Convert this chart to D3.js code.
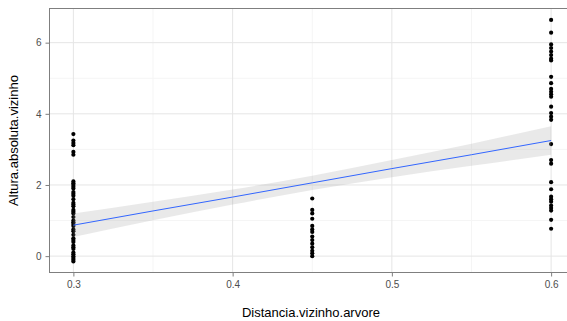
<!DOCTYPE html>
<html>
<head>
<meta charset="utf-8">
<script src="https://cdn.jsdelivr.net/npm/d3@7"></script>
<style>
  body { margin: 0; background: #fff; }
  text { font-family: "Liberation Sans", Arial, sans-serif; }
</style>
</head>
<body>
<div id="chart"></div>
<script>
// Altura.absoluta.vizinho by distance group
const alturas03 = [3.43, 3.25, 3.18, 3.12, 2.93, 2.85, 2.1, 2.05, 2.0, 1.95, 1.9, 1.8, 1.75,
  1.7, 1.6, 1.5, 1.45, 1.4, 1.3, 1.25, 1.2, 1.1, 1.0, 0.95, 0.9, 0.85, 0.75, 0.7, 0.6,
  0.5, 0.45, 0.4, 0.3, 0.25, 0.2, 0.1, 0.05, 0.0, -0.05, -0.1, -0.15];
const alturas045 = [1.62, 1.3, 1.2, 1.05, 0.85, 0.75, 0.68, 0.55, 0.45, 0.35, 0.25, 0.15, 0.08, 0.0];
const alturas06 = [6.64, 6.28, 5.95, 5.85, 5.75, 5.65, 5.55, 5.5, 5.04, 4.86, 4.7, 4.62, 4.55,
  4.48, 4.2, 4.02, 3.92, 3.83, 3.15, 2.7, 2.6, 2.08, 1.88, 1.67, 1.6, 1.53, 1.42, 1.35,
  1.28, 1.02, 0.77];

// lm fit and confidence band
const fitX = [0.3, 0.35, 0.4, 0.45, 0.5, 0.55, 0.6];
const fitY = [0.87, 1.27, 1.66, 2.06, 2.46, 2.85, 3.25];
const fitLo = [0.54, 1.01, 1.45, 1.86, 2.22, 2.54, 2.85];
const fitHi = [1.20, 1.53, 1.87, 2.26, 2.70, 3.16, 3.65];

const xTicks = [0.3, 0.4, 0.5, 0.6];
const xMinor = [0.35, 0.45, 0.55];
const yTicks = [0, 2, 4, 6];
const yMinor = [1, 3, 5];

const width = 567, height = 321;
const panel = { left: 49.5, top: 8.5, right: 575, bottom: 272.5 };

const svg = d3.select("#chart").append("svg")
    .attr("width", width)
    .attr("height", height);

const x = d3.scaleLinear().domain([0.285, 0.615]).range([panel.left, panel.right]);
const y = d3.scaleLinear().domain([-0.46, 6.96]).range([panel.bottom, panel.top]);

// grid
const grid = svg.append("g");
grid.selectAll(".xminor").data(xMinor).enter().append("line")
    .attr("x1", d => x(d)).attr("x2", d => x(d))
    .attr("y1", panel.top).attr("y2", panel.bottom)
    .attr("stroke", "#f5f5f5").attr("stroke-width", 1);
grid.selectAll(".yminor").data(yMinor).enter().append("line")
    .attr("x1", panel.left).attr("x2", panel.right)
    .attr("y1", d => y(d)).attr("y2", d => y(d))
    .attr("stroke", "#f5f5f5").attr("stroke-width", 1);
grid.selectAll(".xmajor").data(xTicks).enter().append("line")
    .attr("x1", d => x(d)).attr("x2", d => x(d))
    .attr("y1", panel.top).attr("y2", panel.bottom)
    .attr("stroke", "#e5e5e5").attr("stroke-width", 1);
grid.selectAll(".ymajor").data(yTicks).enter().append("line")
    .attr("x1", panel.left).attr("x2", panel.right)
    .attr("y1", d => y(d)).attr("y2", d => y(d))
    .attr("stroke", "#e5e5e5").attr("stroke-width", 1);

// points
const points = [];
alturas03.forEach(v => points.push({ x: 0.3, y: v }));
alturas045.forEach(v => points.push({ x: 0.45, y: v }));
alturas06.forEach(v => points.push({ x: 0.6, y: v }));

svg.append("g").selectAll("circle")
    .data(points)
    .enter().append("circle")
    .attr("cx", d => x(d.x))
    .attr("cy", d => y(d.y))
    .attr("r", 2.1)
    .attr("fill", "#000");

// confidence band + fit line
const band = fitX.map((v, i) => ({ x: v, lo: fitLo[i], hi: fitHi[i], y: fitY[i] }));
svg.append("path")
    .datum(band)
    .attr("d", d3.area().x(d => x(d.x)).y0(d => y(d.lo)).y1(d => y(d.hi)).curve(d3.curveMonotoneX))
    .attr("fill", "#999999")
    .attr("fill-opacity", 0.22);
svg.append("path")
    .datum(band)
    .attr("d", d3.line().x(d => x(d.x)).y(d => y(d.y)))
    .attr("fill", "none")
    .attr("stroke", "#3366ff")
    .attr("stroke-width", 1);

// panel border
svg.append("rect")
    .attr("x", panel.left).attr("y", panel.top)
    .attr("width", panel.right - panel.left)
    .attr("height", panel.bottom - panel.top)
    .attr("fill", "none")
    .attr("stroke", "#7f7f7f")
    .attr("stroke-width", 1);

// axes
const xAxis = svg.append("g")
    .attr("transform", `translate(0,${panel.bottom})`)
    .call(d3.axisBottom(x).tickValues(xTicks).tickFormat(d3.format(".1f")).tickSize(4).tickPadding(4));
const yAxis = svg.append("g")
    .attr("transform", `translate(${panel.left},0)`)
    .call(d3.axisLeft(y).tickValues(yTicks).tickFormat(d3.format("d")).tickSize(4).tickPadding(4));
[xAxis, yAxis].forEach(a => {
    a.select(".domain").remove();
    a.selectAll(".tick line").attr("stroke", "#7f7f7f");
    a.selectAll(".tick text").attr("fill", "#4d4d4d").attr("font-size", 10)
        .attr("font-family", "Liberation Sans, Arial, sans-serif");
});

// axis titles
svg.append("text")
    .attr("x", 311)
    .attr("y", 317)
    .attr("text-anchor", "middle")
    .attr("font-size", 13)
    .text("Distancia.vizinho.arvore");
svg.append("text")
    .attr("transform", `translate(18,${(panel.top + panel.bottom) / 2}) rotate(-90)`)
    .attr("text-anchor", "middle")
    .attr("font-size", 13)
    .text("Altura.absoluta.vizinho");
</script>
</body>
</html>
